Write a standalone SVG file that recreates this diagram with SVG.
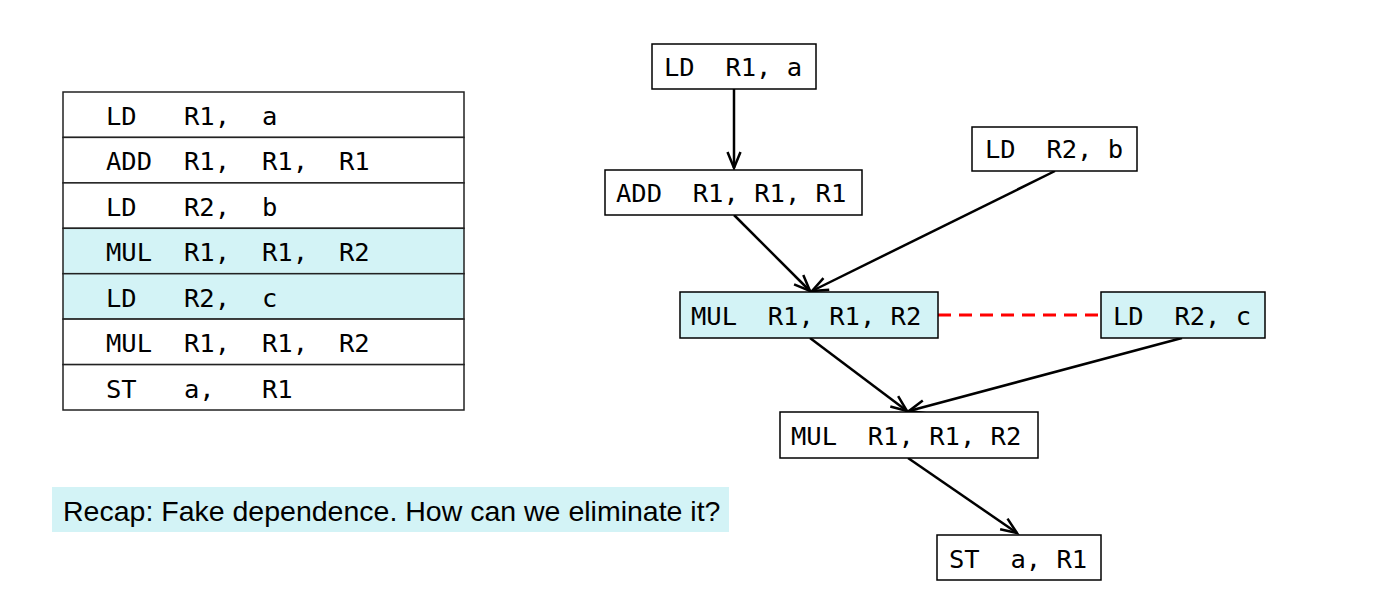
<svg xmlns="http://www.w3.org/2000/svg" width="1377" height="589" viewBox="0 0 1377 589">
<style>
.code{font-family:"DejaVu Sans Mono","Liberation Mono",monospace;font-size:25.5px;fill:#000;white-space:pre}
.box{fill:#fff;stroke:#000;stroke-width:1.5}
.hl{fill:#d3f3f6;stroke:#000;stroke-width:1.5}
.row{fill:#fff;stroke:#222;stroke-width:1.5}
.rowhl{fill:#d3f3f6;stroke:#222;stroke-width:1.5}
.edge{stroke:#000;stroke-width:2.5;fill:none;marker-end:url(#arr)}
.cap{font-family:"Liberation Sans",Arial,sans-serif;font-size:28.5px;fill:#000}
</style>
<defs>
<marker id="arr" markerUnits="userSpaceOnUse" viewBox="-20 -10 24 20" refX="0" refY="0" markerWidth="24" markerHeight="20" orient="auto" overflow="visible">
<path d="M-16,-6.5 L0,0 L-16,6.5" fill="none" stroke="#000" stroke-width="2.5" stroke-linejoin="miter"/>
</marker>
</defs>
<rect width="1377" height="589" fill="#fff"/>

<g id="table">
<rect class="row" x="63" y="92" width="401" height="45.4"/>
<rect class="row" x="63" y="137.4" width="401" height="45.5"/>
<rect class="row" x="63" y="182.9" width="401" height="45.4"/>
<rect class="rowhl" x="63" y="228.3" width="401" height="45.4"/>
<rect class="rowhl" x="63" y="273.7" width="401" height="45.4"/>
<rect class="row" x="63" y="319.1" width="401" height="45.5"/>
<rect class="row" x="63" y="364.6" width="401" height="45.4"/>
<text class="code" y="125"><tspan x="106">LD</tspan><tspan x="184">R1,</tspan><tspan x="262">a</tspan></text>
<text class="code" y="170.4"><tspan x="106">ADD</tspan><tspan x="184">R1,</tspan><tspan x="262">R1,</tspan><tspan x="339">R1</tspan></text>
<text class="code" y="215.9"><tspan x="106">LD</tspan><tspan x="184">R2,</tspan><tspan x="262">b</tspan></text>
<text class="code" y="261.3"><tspan x="106">MUL</tspan><tspan x="184">R1,</tspan><tspan x="262">R1,</tspan><tspan x="339">R2</tspan></text>
<text class="code" y="306.7"><tspan x="106">LD</tspan><tspan x="184">R2,</tspan><tspan x="262">c</tspan></text>
<text class="code" y="352.1"><tspan x="106">MUL</tspan><tspan x="184">R1,</tspan><tspan x="262">R1,</tspan><tspan x="339">R2</tspan></text>
<text class="code" y="397.6"><tspan x="106">ST</tspan><tspan x="184">a,</tspan><tspan x="262">R1</tspan></text>
</g>

<g id="caption">
<rect x="52" y="487" width="677" height="45" fill="#d3f3f6"/>
<text class="cap" x="63" y="521">Recap: Fake dependence. How can we eliminate it?</text>
</g>

<g id="connectors">
<line class="edge" x1="734" y1="89" x2="734" y2="168"/>
<line class="edge" x1="734" y1="215" x2="810" y2="291"/>
<line class="edge" x1="1055" y1="171" x2="812" y2="291"/>
<line class="edge" x1="810" y1="338" x2="907" y2="411"/>
<line class="edge" x1="1182" y1="338" x2="909" y2="411"/>
<line class="edge" x1="908" y1="458" x2="1017" y2="533"/>
<line x1="938" y1="315" x2="1101" y2="315" stroke="#f00" stroke-width="3" stroke-dasharray="13,8"/>
</g>

<g id="n1"><rect class="box" x="652" y="44" width="164" height="45"/><text class="code" x="664" y="76">LD  R1, a</text></g>
<g id="n2"><rect class="box" x="605" y="170" width="257" height="45"/><text class="code" x="616" y="202">ADD  R1, R1, R1</text></g>
<g id="n3"><rect class="box" x="972" y="127" width="165" height="44"/><text class="code" x="985" y="158">LD  R2, b</text></g>
<g id="n4"><rect class="hl" x="680" y="292" width="258" height="46"/><text class="code" x="691" y="325">MUL  R1, R1, R2</text></g>
<g id="n5"><rect class="hl" x="1101" y="292" width="164" height="46"/><text class="code" x="1113" y="325">LD  R2, c</text></g>
<g id="n6"><rect class="box" x="780" y="412" width="258" height="46"/><text class="code" x="791" y="445">MUL  R1, R1, R2</text></g>
<g id="n7"><rect class="box" x="937" y="535" width="164" height="45"/><text class="code" x="949" y="568">ST  a, R1</text></g>
</svg>
